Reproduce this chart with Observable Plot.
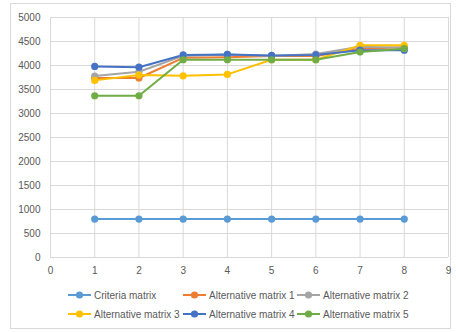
<!DOCTYPE html>
<html>
<head>
<meta charset="utf-8">
<script src="https://cdn.jsdelivr.net/npm/d3@7"></script>
<script src="https://cdn.jsdelivr.net/npm/@observablehq/plot@0.6"></script>
<style>
  html, body { margin: 0; padding: 0; background: #fff; }
  #frame {
    position: absolute; left: 10px; top: 3px; width: 441px; height: 326px;
    border: 1px solid #d9d9d9; box-sizing: border-box;
  }
  #chart { position: absolute; left: 0; top: 0; }
  #legend { position: absolute; left: 0; top: 285px; width: 456px; height: 40px;
    font-family: "Liberation Sans", Arial, sans-serif; font-size: 10px; color: #595959; }
  .item { position: absolute; display: flex; align-items: center; white-space: nowrap; }
  .item svg { margin-right: 3px; }
</style>
</head>
<body>
<div id="frame"></div>
<div id="chart"></div>
<div id="legend"></div>
<script>
// Matrix index on the x axis
const steps = [1, 2, 3, 4, 5, 6, 7, 8];

// Values per series
const criteriaMatrix = [800, 800, 800, 800, 800, 800, 800, 800];
const altMatrix1 = [3740, 3740, 4160, 4170, 4200, 4200, 4350, 4380];
const altMatrix2 = [3780, 3870, 4200, 4230, 4200, 4240, 4390, 4370];
const altMatrix3 = [3690, 3800, 3785, 3815, 4120, 4120, 4420, 4420];
const altMatrix4 = [3980, 3965, 4220, 4230, 4210, 4220, 4320, 4320];
const altMatrix5 = [3370, 3370, 4120, 4120, 4120, 4120, 4280, 4350];

const seriesNames = ["Criteria matrix", "Alternative matrix 1", "Alternative matrix 2",
  "Alternative matrix 3", "Alternative matrix 4", "Alternative matrix 5"];
const seriesValues = [criteriaMatrix, altMatrix1, altMatrix2, altMatrix3, altMatrix4, altMatrix5];
const seriesColors = ["#5B9BD5", "#ED7D31", "#A5A5A5", "#FFC000", "#4472C4", "#70AD47"];

const xTicks = [0, 1, 2, 3, 4, 5, 6, 7, 8, 9];
const yTicks = d3.range(0, 5001, 500);

const rows = seriesNames.flatMap((name, i) =>
  steps.map((x, j) => ({series: name, x, y: seriesValues[i][j]})));

const font = "Liberation Sans, Arial, sans-serif";

const chart = Plot.plot({
  width: 456,
  height: 280,
  marginLeft: 50,
  marginRight: 8,
  marginTop: 17,
  marginBottom: 23,
  style: {fontFamily: font, fontSize: "10px", color: "#595959", background: "transparent"},
  x: {domain: [0, 9], ticks: xTicks, tickFormat: d => String(d), tickSize: 0, tickPadding: 9, label: null},
  y: {domain: [0, 5000], ticks: yTicks, tickFormat: d => String(d), tickSize: 0, tickPadding: 10, label: null},
  marks: [
    Plot.gridX(xTicks, {stroke: "#d9d9d9", strokeOpacity: 1, strokeWidth: 1}),
    Plot.gridY(yTicks, {stroke: "#d9d9d9", strokeOpacity: 1, strokeWidth: 1}),
    ...seriesNames.map((name, i) => Plot.line(rows.filter(d => d.series === name),
      {x: "x", y: "y", stroke: seriesColors[i], strokeWidth: 2})),
    ...seriesNames.map((name, i) => Plot.dot(rows.filter(d => d.series === name),
      {x: "x", y: "y", r: 3.6, fill: seriesColors[i], stroke: "none"}))
  ]
});
document.getElementById("chart").appendChild(chart);

// Legend: two rows of three entries
const legend = document.getElementById("legend");
const colX = [68, 183, 297];
const rowY = [10, 29];
seriesNames.forEach((name, i) => {
  const item = document.createElement("div");
  item.className = "item";
  item.style.left = colX[i % 3] + "px";
  item.style.top = (rowY[Math.floor(i / 3)] - 6) + "px";
  item.innerHTML = `<svg width="23" height="12"><line x1="0" x2="23" y1="6" y2="6" stroke="${seriesColors[i]}" stroke-width="2"/><circle cx="11.5" cy="6" r="3.6" fill="${seriesColors[i]}"/></svg><span>${name}</span>`;
  legend.appendChild(item);
});
</script>
</body>
</html>
